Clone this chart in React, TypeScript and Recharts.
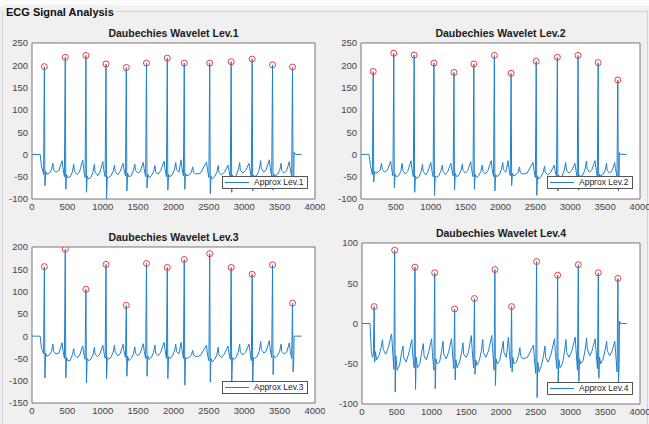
import { ComposedChart, Line, Scatter, XAxis, YAxis, CartesianGrid, ReferenceArea } from "recharts";

// sample index of every plotted point (shared by all four approximation levels)
const sampleX = [
  0, 115, 135, 150,
  163, 175, 183, 193, 210, 245, 275, 295, 305, 340, 380, 425, 437,
  458, 470, 478, 488, 505, 540, 570, 590, 600, 635, 670, 717, 729,
  750, 762, 770, 780, 797, 832, 862, 882, 892, 927, 960, 1001, 1013,
  1034, 1046, 1054, 1064, 1081, 1116, 1146, 1166, 1176, 1211, 1245, 1288, 1300,
  1321, 1333, 1341, 1351, 1368, 1403, 1433, 1453, 1463, 1498, 1530, 1573, 1585,
  1606, 1618, 1626, 1636, 1653, 1688, 1718, 1738, 1748, 1783, 1820, 1867, 1879,
  1900, 1912, 1920, 1930, 1947, 1982, 2012, 2032, 2042, 2077, 2107, 2119,
  2140, 2152, 2160, 2170, 2187, 2222, 2252, 2272, 2282, 2317, 2380, 2467, 2479,
  2500, 2512, 2520, 2530, 2547, 2582, 2612, 2632, 2642, 2677, 2720, 2770, 2782,
  2803, 2815, 2823, 2833, 2850, 2885, 2915, 2935, 2945, 2980, 3020, 3067, 3079,
  3100, 3112, 3120, 3130, 3147, 3182, 3212, 3232, 3242, 3277, 3310, 3355, 3367,
  3388, 3400, 3408, 3418, 3435, 3470, 3500, 3520, 3530, 3565, 3600, 3637, 3649,
  3670, 3682, 3690, 3700, 3705, 3720, 3810,
];

const approxLev1 = [
  0, 0, -28, -35,
  -45, 197, -70, -38, -45, -42, -35, -20, -35, -40, -36, -14, -30,
  -50, 218, -78, -45, -52, -50, -40, -22, -38, -45, -40, -13, -32,
  -52, 222, -85, -48, -55, -52, -40, -22, -40, -48, -40, -16, -34,
  -50, 203, -100, -50, -52, -48, -38, -24, -38, -46, -38, -20, -34,
  -48, 195, -82, -42, -50, -48, -36, -22, -36, -42, -38, -18, -32,
  -50, 205, -75, -44, -52, -48, -38, -25, -40, -44, -36, -15, -32,
  -50, 216, -80, -45, -50, -46, -35, -18, -34, -40, -12, -30,
  -48, 205, -78, -42, -48, -46, -40, -28, -40, -44, -42, -17, -33,
  -52, 205, -88, -48, -55, -50, -40, -25, -40, -46, -40, -24, -36,
  -50, 208, -85, -46, -52, -48, -35, -18, -35, -42, -36, -20, -33,
  -52, 214, -82, -46, -50, -46, -34, -14, -32, -40, -34, -12, -30,
  -50, 201, -80, -44, -48, -45, -36, -20, -36, -42, -36, -16, -32,
  -50, 196, -50, -52, 5, 0, 0,
];

const approxLev2 = [
  0, 0, -25, -35,
  -45, 186, -62, -38, -42, -40, -34, -20, -34, -40, -35, -15, -30,
  -48, 227, -75, -44, -50, -48, -38, -20, -36, -44, -38, -14, -32,
  -50, 223, -85, -48, -54, -50, -38, -22, -38, -46, -38, -18, -34,
  -50, 205, -92, -48, -52, -48, -36, -24, -38, -45, -38, -20, -33,
  -48, 184, -80, -42, -50, -47, -36, -22, -36, -42, -36, -16, -32,
  -50, 203, -78, -44, -52, -48, -38, -24, -38, -44, -36, -14, -32,
  -50, 222, -82, -45, -50, -46, -34, -18, -34, -40, -14, -30,
  -48, 182, -70, -42, -48, -46, -40, -28, -40, -44, -42, -18, -34,
  -52, 209, -92, -48, -55, -50, -40, -26, -40, -46, -40, -24, -36,
  -50, 218, -82, -46, -52, -48, -35, -18, -35, -42, -36, -20, -33,
  -52, 222, -80, -46, -50, -46, -34, -15, -32, -40, -34, -14, -30,
  -50, 206, -78, -44, -48, -45, -36, -20, -36, -42, -36, -18, -32,
  -50, 167, -82, -52, 4, 0, 0,
];

const approxLev3 = [
  0, 0, -28, -32,
  -40, 156, -94, -38, -45, -42, -35, -18, -34, -40, -38, -15, -32,
  -50, 195, -94, -48, -55, -55, -42, -28, -42, -48, -44, -22, -36,
  -52, 105, -105, -50, -55, -52, -42, -25, -40, -46, -40, -20, -34,
  -50, 161, -95, -48, -52, -48, -36, -20, -36, -44, -40, -18, -34,
  -48, 69, -90, -45, -55, -50, -40, -24, -38, -44, -38, -17, -32,
  -50, 163, -90, -44, -52, -48, -36, -20, -38, -44, -36, -14, -30,
  -50, 154, -95, -46, -50, -46, -34, -18, -34, -40, -14, -30,
  -50, 172, -110, -48, -50, -48, -42, -32, -42, -46, -44, -20, -40,
  -55, 185, -103, -50, -58, -52, -42, -25, -42, -48, -40, -22, -36,
  -52, 154, -105, -48, -52, -48, -36, -18, -35, -42, -36, -18, -32,
  -55, 139, -103, -48, -50, -46, -34, -12, -30, -38, -34, -10, -30,
  -48, 160, -86, -44, -48, -44, -34, -18, -34, -40, -36, -15, -32,
  -50, 74, -80, -55, 0, 0, 0,
];

const approxLev4 = [
  0, 0, -35, -42,
  -40, 21, -48, -35, -45, -40, -30, -20, -32, -38, -30, -13, -28,
  -57, 91, -85, -40, -58, -52, -36, -28, -42, -48, -38, -20, -38,
  -55, 70, -82, -42, -55, -50, -34, -25, -40, -45, -35, -19, -36,
  -58, 63, -81, -44, -50, -48, -34, -22, -38, -44, -36, -19, -34,
  -56, 18, -70, -45, -55, -48, -36, -24, -38, -42, -36, -15, -32,
  -55, 31, -63, -45, -52, -46, -34, -20, -36, -42, -34, -15, -30,
  -58, 67, -77, -44, -50, -46, -32, -22, -36, -42, -17, -34,
  -55, 21, -60, -42, -50, -48, -40, -30, -40, -44, -42, -27, -42,
  -62, 77, -92, -48, -60, -52, -40, -28, -42, -48, -38, -19, -36,
  -56, 60, -75, -45, -55, -50, -34, -20, -36, -42, -34, -17, -32,
  -58, 73, -72, -44, -50, -46, -32, -18, -32, -40, -34, -19, -34,
  -56, 63, -68, -42, -50, -44, -32, -22, -34, -40, -34, -22, -36,
  -60, 56, -75, -50, 3, 0, 0,
];

// detected R peaks
const peakX = [175, 470, 762, 1046, 1333, 1618, 1912, 2152, 2512, 2815, 3112, 3400, 3682];
const peaksLev1 = [197, 218, 222, 203, 195, 205, 216, 205, 205, 208, 214, 201, 196];
const peaksLev2 = [186, 227, 223, 205, 184, 203, 222, 182, 209, 218, 222, 206, 167];
const peaksLev3 = [156, 195, 105, 161, 69, 163, 154, 172, 185, 154, 139, 160, 74];
const peaksLev4 = [21, 91, 70, 63, 18, 31, 67, 21, 77, 60, 73, 63, 56];

const xTicks = [0, 500, 1000, 1500, 2000, 2500, 3000, 3500, 4000];
const yTicksLev12 = [-100, -50, 0, 50, 100, 150, 200, 250];
const yTicksLev3 = [-150, -100, -50, 0, 50, 100, 150, 200];
const yTicksLev4 = [-100, -50, 0, 50, 100];

const FONT = "'Liberation Sans', Arial, Helvetica, sans-serif";
const LINE_COLOR = "#2281c8";

const RingMarker = (props: any) => {
  const { cx, cy } = props;
  if (cx == null || cy == null) return null;
  return <circle cx={cx} cy={cy} r={3} fill="none" stroke="#f23b3b" strokeWidth={1} />;
};

interface PanelProps {
  title: string;
  name: string;
  ys: number[];
  peaks: number[];
  yTicks: number[];
  left: number;
  top: number;
  w: number;
  h: number;
  legendBottom: number;
}

const YW = 45;
const XH = 22;
const MT = 10;
const MR = 10;

const Panel = ({ title, name, ys, peaks, yTicks, left, top, w, h, legendBottom }: PanelProps) => {
  const signal = sampleX.map((x, i) => ({ x, y: ys[i] }));
  const peakData = peakX.map((x, i) => ({ x, y: peaks[i] }));
  const yMin = yTicks[0];
  const yMax = yTicks[yTicks.length - 1];
  const tickStyle = { fontSize: 9.5, fill: "#444", fontFamily: FONT };

  return (
    <>
      <div
        style={{
          position: "absolute",
          left,
          top: top - 17,
          width: w,
          height: 14,
          lineHeight: "14px",
          textAlign: "center",
          fontWeight: "bold",
          fontSize: 10.5,
          color: "#1a1a1a",
          fontFamily: FONT,
        }}
      >
        {title}
      </div>
      <div style={{ position: "absolute", left: left - YW, top: top - MT }}>
        <ComposedChart width={w + YW + MR} height={h + MT + XH} margin={{ top: MT, right: MR, left: 0, bottom: 0 }}>
          <ReferenceArea x1={0} x2={4000} y1={yMin} y2={yMax} fill="#ffffff" fillOpacity={1} stroke="none" />
          <CartesianGrid stroke="#e4e4e4" />
          <XAxis
            type="number"
            dataKey="x"
            domain={[0, 4000]}
            ticks={xTicks}
            interval={0}
            height={XH}
            axisLine={false}
            tickLine={false}
            tickSize={0}
            tickMargin={4}
            tick={tickStyle}
            allowDataOverflow
          />
          <YAxis
            type="number"
            dataKey="y"
            domain={[yMin, yMax]}
            ticks={yTicks}
            interval={0}
            width={YW}
            axisLine={false}
            tickLine={false}
            tickSize={0}
            tickMargin={4}
            tick={tickStyle}
            allowDataOverflow
          />
          <Line
            data={signal}
            dataKey="y"
            type="linear"
            stroke={LINE_COLOR}
            strokeWidth={1}
            dot={false}
            isAnimationActive={false}
          />
          <Scatter data={peakData} dataKey="y" shape={RingMarker} isAnimationActive={false} />
          <ReferenceArea x1={0} x2={4000} y1={yMin} y2={yMax} fill="none" stroke="#5c5c5c" strokeWidth={0.8} />
        </ComposedChart>
      </div>
      <div
        style={{
          position: "absolute",
          left: left + w - 7 - 86,
          top: top + h - legendBottom - 13,
          width: 84,
          height: 11,
          border: "1px solid #555",
          background: "#fff",
          fontFamily: FONT,
          fontSize: 8.5,
          color: "#262626",
        }}
      >
        <div style={{ position: "absolute", left: 2, top: 5, width: 24, height: 1, background: LINE_COLOR }} />
        <div style={{ position: "absolute", left: 31, top: 0, lineHeight: "11px", whiteSpace: "nowrap" }}>{name}</div>
      </div>
    </>
  );
};

export default function App() {
  return (
    <div
      style={{
        position: "absolute",
        left: 0,
        top: 0,
        width: 649,
        height: 424,
        background: "#f0f0f0",
        overflow: "hidden",
        fontFamily: FONT,
      }}
    >
      <div style={{ position: "absolute", left: 0, top: 0, width: 649, height: 6, background: "#fbfbfb" }} />
      <div
        style={{
          position: "absolute",
          left: 2,
          top: 11,
          width: 644,
          height: 420,
          borderTop: "1px solid #d2d2d2",
          borderLeft: "1px solid #d2d2d2",
          borderRight: "1px solid #d2d2d2",
        }}
      />
      <div
        style={{
          position: "absolute",
          left: 4,
          top: 5,
          padding: "0 2px",
          height: 15,
          lineHeight: "15px",
          fontWeight: "bold",
          fontSize: 11,
          color: "#111",
          background: "#f0f0f0",
        }}
      >
        ECG Signal Analysis
      </div>
      <Panel title="Daubechies Wavelet Lev.1" name="Approx Lev.1" ys={approxLev1} peaks={peaksLev1} yTicks={yTicksLev12} left={32} top={43} w={283} h={156} legendBottom={10} />
      <Panel title="Daubechies Wavelet Lev.2" name="Approx Lev.2" ys={approxLev2} peaks={peaksLev2} yTicks={yTicksLev12} left={361} top={43} w={279} h={156} legendBottom={10} />
      <Panel title="Daubechies Wavelet Lev.3" name="Approx Lev.3" ys={approxLev3} peaks={peaksLev3} yTicks={yTicksLev3} left={32} top={247} w={283} h={156} legendBottom={9} />
      <Panel title="Daubechies Wavelet Lev.4" name="Approx Lev.4" ys={approxLev4} peaks={peaksLev4} yTicks={yTicksLev4} left={362} top={243} w={278} h={161} legendBottom={9} />
    </div>
  );
}
